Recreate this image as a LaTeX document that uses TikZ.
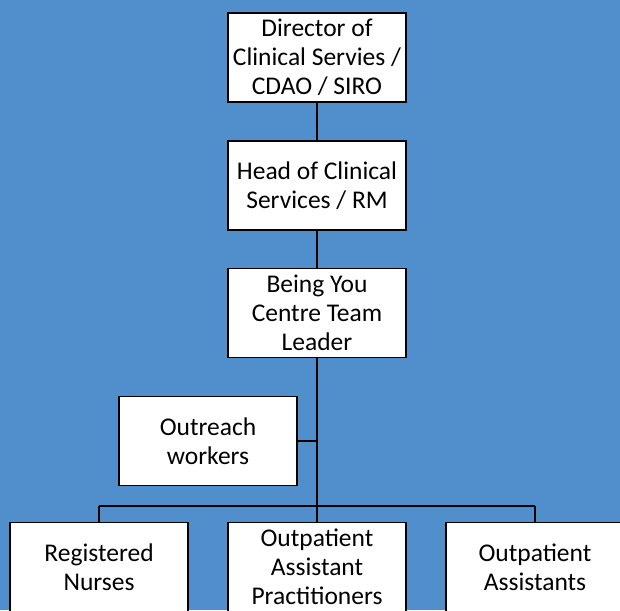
\documentclass[tikz,border=0pt]{standalone}
\usepackage{fontspec}
\setmainfont{Carlito}
\usepackage{tikz}
\definecolor{chartblue}{RGB}{80,143,204}

\begin{document}
\begin{tikzpicture}[x=1pt,y=-1pt,
  box/.style={draw=black,fill=white,line width=1.8pt,minimum width=178pt,minimum height=89pt,
    inner sep=0pt,align=center,font=\fontsize{25.5}{29}\selectfont},
  link/.style={line width=1.8pt}]
  \fill[chartblue] (0,0) rectangle (620,610);
  \useasboundingbox (0,0) rectangle (620,610);
  %\draw (0,0) grid (620,610);
  \node[box] (dir) at (317,57.5) {Director of\\Clinical Servies /\\CDAO / SIRO};
  \node[box] (head) at (317,185.5) {Head of Clinical\\Services / RM};
  \node[box] (lead) at (317,313) {Being You\\Centre Team\\Leader};
  \node[box] (outr) at (208,441) {Outreach\\workers};
  \node[box] (nurse) at (99,567) {Registered\\Nurses};
  \node[box] (prac) at (317,567) {Outpatient\\Assistant\\Practitioners};
  \node[box] (asst) at (535,567) {Outpatient\\Assistants};
  \coordinate (bus) at (317,506);
  \draw[link] (dir) -- (head);
  \draw[link] (head) -- (lead);
  \draw[link] (lead) -- (bus);
  \draw[link] (outr.east) -- (outr.east -| lead.south);
  \draw[link] (bus -| nurse.north) -- (bus -| asst.north);
  \draw[link] (bus -| nurse.north) -- (nurse.north);
  \draw[link] (bus) -- (prac.north);
  \draw[link] (bus -| asst.north) -- (asst.north);
\end{tikzpicture}
\end{document}
